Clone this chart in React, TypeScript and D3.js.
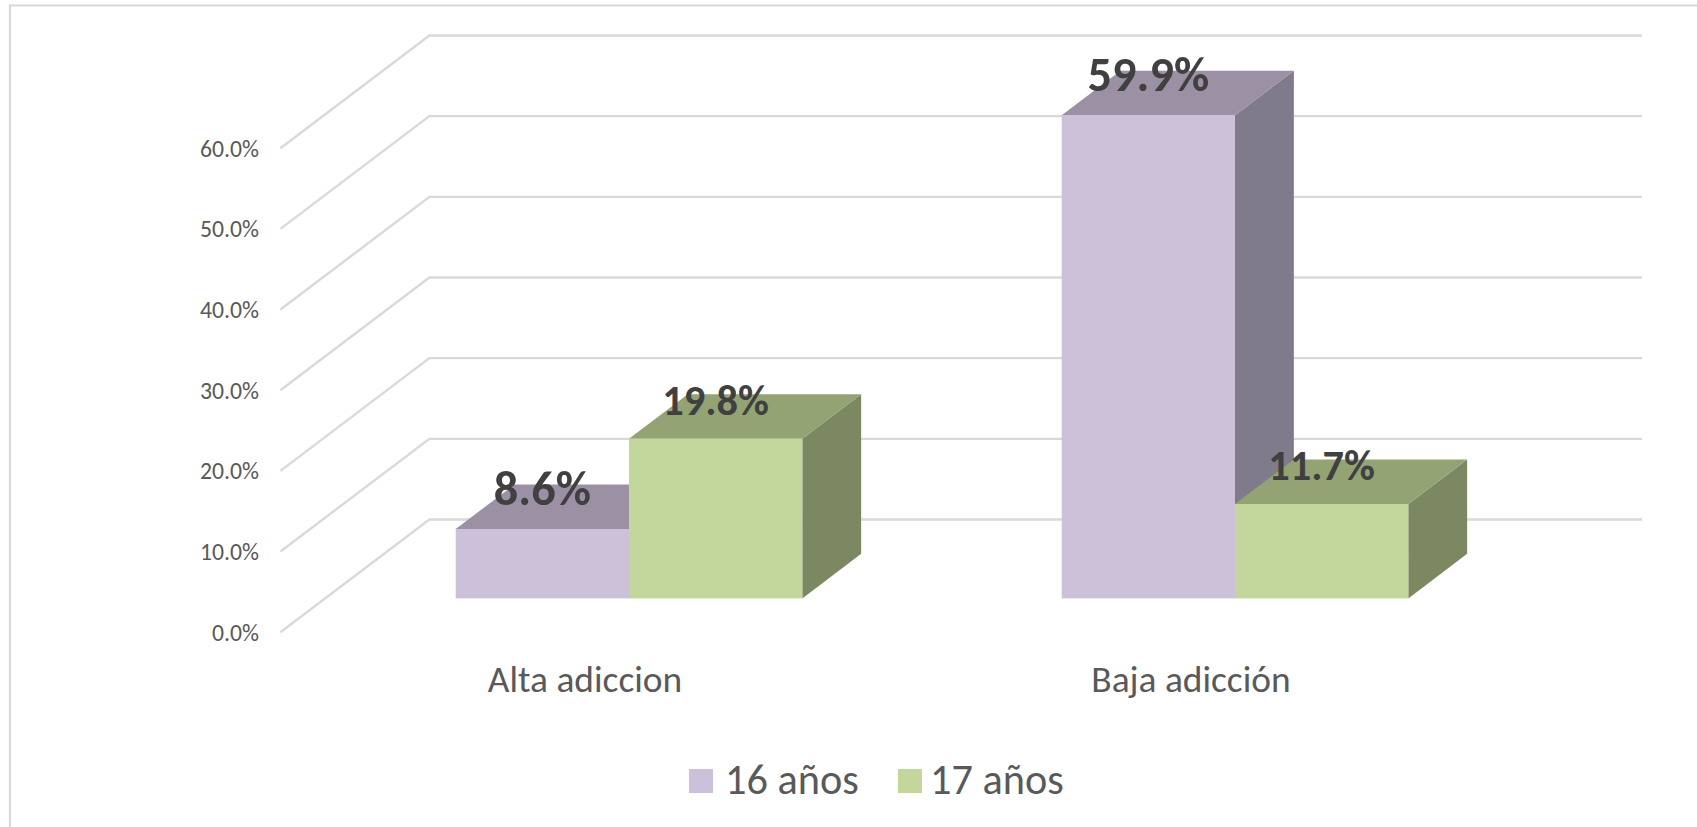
import React from "react";
import * as d3 from "d3";

const categories = ["Alta adiccion", "Baja adicción"];
const seriesNames = ["16 años", "17 años"];
const values16 = [8.6, 59.9];
const values17 = [19.8, 11.7];
const ticks = [0, 10, 20, 30, 40, 50, 60];
const frontColors = ["#CDC1DA", "#C3D69B"];
const topColors = ["#9B90A4", "#94A374"];
const sideColors = ["#7F7B8B", "#7C8862"];
const legendColors = ["#CCC1DA", "#C3D69B"];
const labelSizes = [48.3, 42.4];

const W = 1697, H = 827;
const FONT = "Carlito, Calibri, Lato, sans-serif";
const GRID = "#D9D9D9";

// Floor front edge sits at y(0); the wall is offset by a fixed oblique depth.
const y = d3.scaleLinear().domain([0, 60]).range([632.2, 148.2]);
const depthX = 149, depthY = 112.7;
const wallLeft = 280.4, wallRight = 1642;
const barDepthStart = 0.3, barDepthSize = 0.395;

const x0 = d3.scaleBand<string>().domain(categories).range([326, 1538]);
const barW = 173.3;
const x1 = d3.scaleBand<string>().domain(seriesNames)
  .range([x0.bandwidth() / 2 - barW, x0.bandwidth() / 2 + barW]);

const pts = (p: number[][]) => p.map(q => q.join(",")).join(" ");
const seriesValues = [values16, values17];
const pct = (v: number) => d3.format(".1f")(v) + "%";

export default function App() {
  const bars = categories.flatMap((c, ci) =>
    seriesNames.map((s, si) => {
      const v = seriesValues[si][ci];
      const xa = x0(c)! + x1(s)!;
      const xb = xa + x1.bandwidth();
      const oy = depthY * barDepthStart;
      const dx = depthX * barDepthSize, dy = depthY * barDepthSize;
      const bottom = y(0) - oy, top = y(v) - oy;
      return { key: c + s, si, v, xa, xb, top, bottom, dx, dy };
    })
  );
  return (
    <svg width={W} height={H} viewBox={`0 0 ${W} ${H}`}
      style={{ position: "absolute", left: 0, top: 0, display: "block", background: "#fff" }}>
      <polyline points={pts([[10, H], [10, 5.5], [W, 5.5]])} fill="none" stroke={GRID} strokeWidth={2.2} />
      {ticks.map(t => (
        <g key={t}>
          <polyline
            points={pts([[wallLeft, y(t)], [wallLeft + depthX, y(t) - depthY], [wallRight, y(t) - depthY]])}
            fill="none" stroke={GRID} strokeWidth={2.4} />
          <text x={259} y={y(t) + 8.5} textAnchor="end" fontFamily={FONT} fontSize={23.7} fill="#595959">
            {pct(t)}
          </text>
        </g>
      ))}
      {bars.map(b => (
        <g key={b.key}>
          <polygon fill={sideColors[b.si]}
            points={pts([[b.xb, b.top], [b.xb + b.dx, b.top - b.dy], [b.xb + b.dx, b.bottom - b.dy], [b.xb, b.bottom]])} />
          <polygon fill={topColors[b.si]}
            points={pts([[b.xa, b.top], [b.xa + b.dx, b.top - b.dy], [b.xb + b.dx, b.top - b.dy], [b.xb, b.top]])} />
          <rect x={b.xa} y={b.top} width={b.xb - b.xa} height={b.bottom - b.top} fill={frontColors[b.si]} />
        </g>
      ))}
      {bars.map(b => (
        <text key={b.key} x={(b.xa + b.xb) / 2} y={b.top - 24} textAnchor="middle"
          fontFamily={FONT} fontWeight={700} fontSize={labelSizes[b.si]} fill="#404040">
          {pct(b.v)}
        </text>
      ))}
      {categories.map(c => (
        <text key={c} x={x0(c)! + x0.bandwidth() / 2 - 44} y={692} textAnchor="middle"
          fontFamily={FONT} fontSize={37.4} fill="#595959">
          {c}
        </text>
      ))}
      {seriesNames.map((s, i) => {
        const lx = [689, 898][i];
        const tx = [725, 930][i];
        return (
          <g key={s}>
            <rect x={lx} y={769} width={24} height={24} fill={legendColors[i]} />
            <text x={tx} y={794} fontFamily={FONT} fontSize={42.3} fill="#595959">{s}</text>
          </g>
        );
      })}
    </svg>
  );
}
